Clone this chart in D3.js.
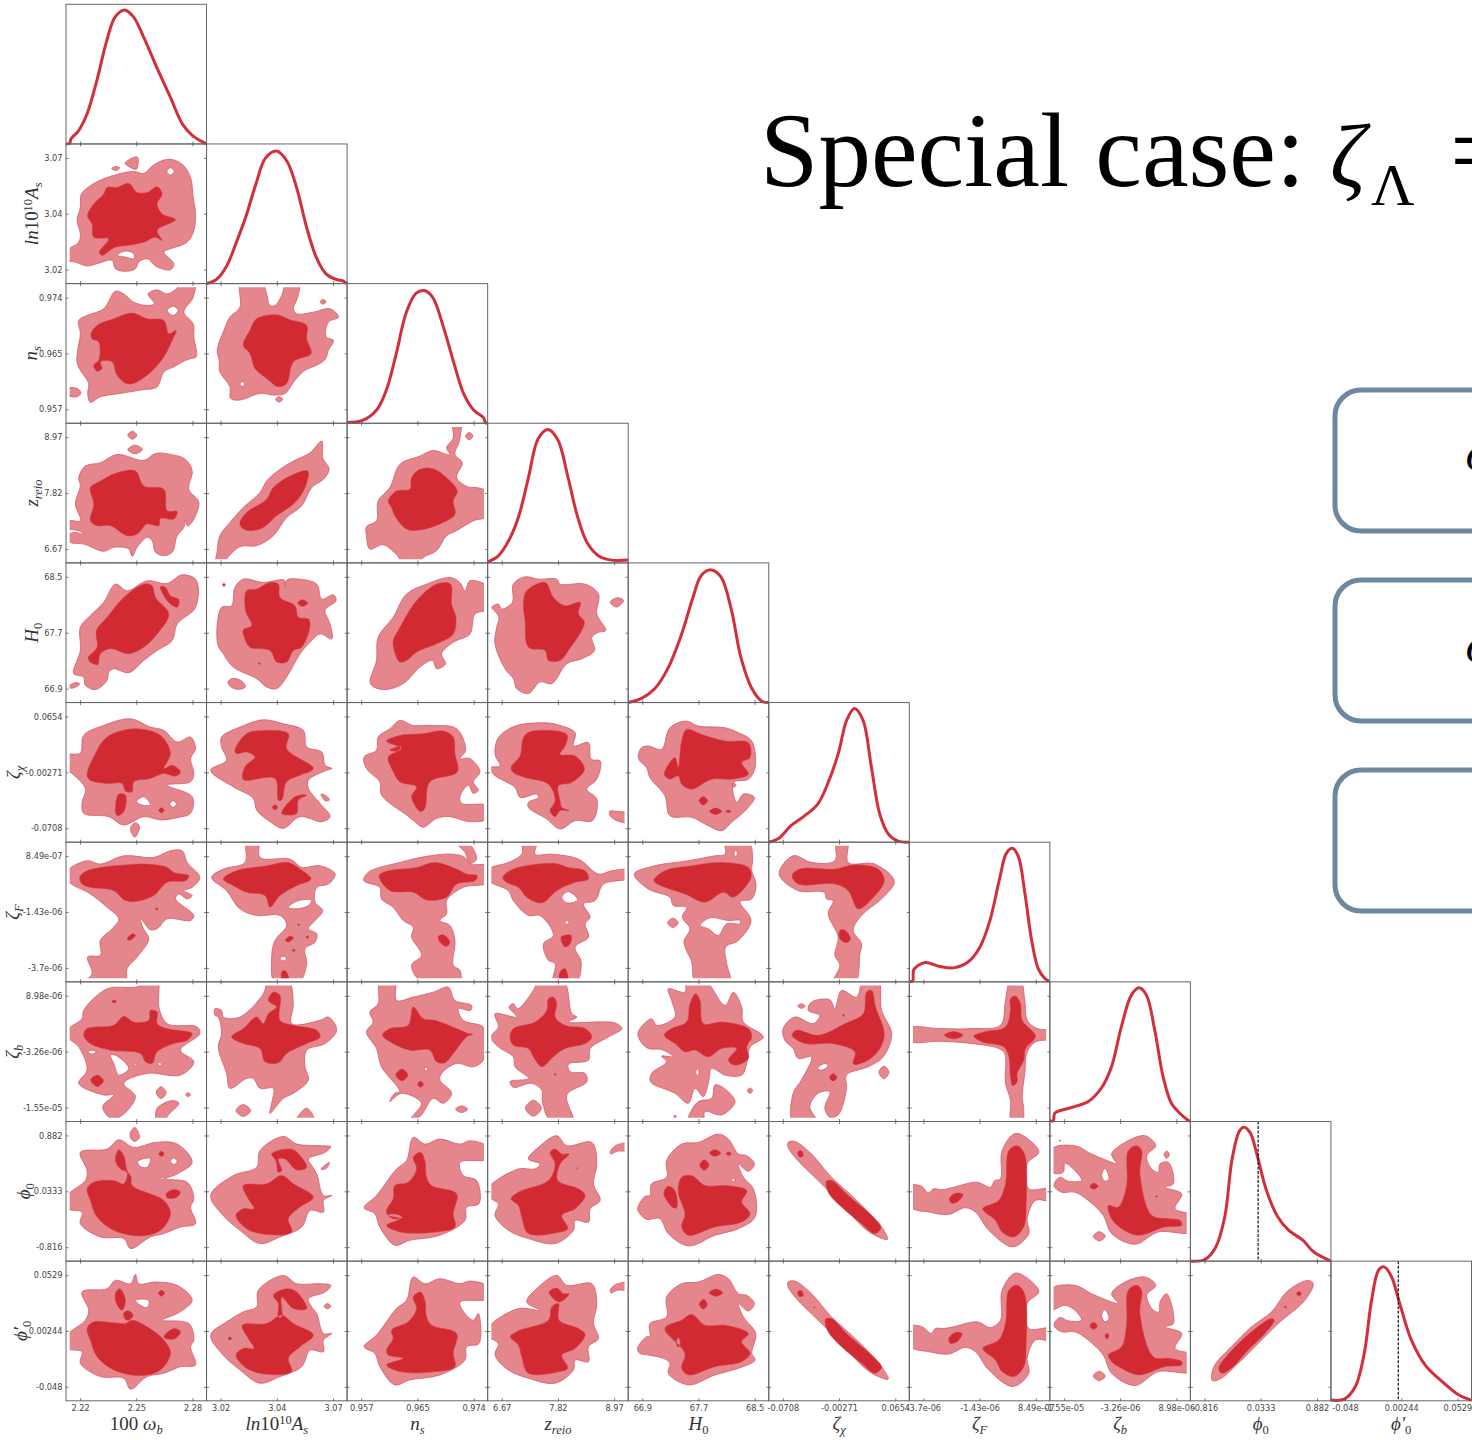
<!DOCTYPE html>
<html>
<head>
<meta charset="utf-8">
<script src="https://cdnjs.cloudflare.com/ajax/libs/d3/7.8.5/d3.min.js"></script>
<style>
body { margin: 0; background: #fff; overflow: hidden; }
</style>
</head>
<body>
<svg id="plot" width="1472" height="1440"></svg>
<script>
// tick labels per parameter, at 10%, 50% and 90% of each axis
const xTickLabels = [
  ['2.22', '2.25', '2.28'], ['3.02', '3.04', '3.07'], ['0.957', '0.965', '0.974'],
  ['6.67', '7.82', '8.97'], ['66.9', '67.7', '68.5'], ['-0.0708', '-0.00271', '0.0654'],
  ['-3.7e-06', '-1.43e-06', '8.49e-07'], ['-1.55e-05', '-3.26e-06', '8.98e-06'],
  ['-0.816', '0.0333', '0.882'], ['-0.048', '0.00244', '0.0529']
]
const tickPercent = [10, 50, 90]

// axis names as [text, kind] pieces
const paramNames = [
  [['100 ', 'r'], ['ω', 'i'], ['b', 'sub']],
  [['ln', 'i'], ['10', 'r'], ['10', 'sup'], ['A', 'i'], ['s', 'sub']],
  [['n', 'i'], ['s', 'sub']],
  [['z', 'i'], ['reio', 'sub']],
  [['H', 'i'], ['0', 'subr']],
  [['ζ', 'i'], ['χ', 'sub']],
  [['ζ', 'i'], ['F', 'sub']],
  [['ζ', 'i'], ['b', 'sub']],
  [['ϕ', 'i'], ['0', 'subr']],
  [['ϕ′', 'i'], ['0', 'subr']]
]

// 1d posteriors: x %, density %
const d0 = [0,0, 2.6,.5, 3.5,3.6, 9,9.6, 15,21.6, 22,45.6, 29,74, 35,91, 41.8,96, 48,91, 55,77, 64.5,55, 74,34, 83,14, 90,6, 100,0]
const d1 = [0,0, 7,2.9, 14,12, 21,29, 28,48, 35,71, 42,90, 49.8,95, 57,88, 64,69, 71,41, 78,19, 85,7, 92,3, 97,2, 100,0]
const d2 = [0,.5, 11,2, 21,9.5, 28,24, 35,50, 42,79, 49,93, 54.9,95, 61,90, 68.5,69, 76,43, 83,21, 90,9.5, 97,4, 98.5,.5, 100,0]
const d3_ = [0,.7, 7.6,5, 15,16, 22,33, 29,61, 36,89, 43,95.6, 50,88, 57,62, 64,33, 71,14, 79,5, 88,2, 100,2]
const d4 = [0,0, 9.5,3, 19,10, 28.5,25, 38,49, 46,75, 52,91, 59,95, 66,90, 73.5,66, 80,33, 87.5,11, 95,1, 100,0]
const d5 = [0,0, 6.6,2.4, 16,12, 25.6,19, 35,27.5, 42,42, 49.5,63.6, 55.5,87.5, 61,95.7, 67,87.5, 73,54, 79,20, 85,6, 92,.7, 100,0]
const d6 = [0,.5, 2.4,.5, 3.3,8.9, 11.3,13.9, 21,11.2, 31.4,10, 42,14.4, 50.3,25, 57.4,44, 64.5,75, 69,92, 73.3,95.7, 77.5,90, 82.3,63, 87,30, 91.7,9.5, 96.5,2.4, 99.4,.3]
const d7 = [0,.5, 2.4,.5, 3.6,6, 15.4,10, 27.3,14.3, 36.7,24, 43.8,39, 50.9,68, 58,90.5, 63.5,95.7, 68.7,90.5, 74.6,65.5, 80.6,32, 86.5,13, 93.6,4.8, 97.9,1.2, 100,0]
const d8 = [0,0, 10.3,1.2, 18,10, 24.5,32, 29.6,72.7, 34.8,93, 38.1,95.9, 42.5,92, 47.7,75, 54,51, 62,32, 70,22, 80,15, 87.6,6.7, 100,0]
const d9 = [0,.5, 9.5,1.2, 17.3,10, 23.7,34, 28.9,72, 34,93.8, 37.9,95.9, 43,89, 49.5,67.7, 57,44, 67.5,25, 80,13, 90.7,4.3, 99.7,.5]
const densities = [d0, d1, d2, d3_, d4, d5, d6, d7, d8, d9]
const truthPercent = [null, null, null, null, null, null, null, null, 48.2, 47.9]

// 2d contours on a 421 x 421 density grid (origin bottom left).
// L = 95% region, holes are polygons nested inside. D = 68% region.
const r1c0L = [
  [5,100, 38,125, 43,150, 33,190, 43,230, 46,270, 73,295, 123,320, 203,338, 233,332, 263,358, 308,375, 348,360, 373,320, 381,260, 388,210, 383,160, 363,125, 313,105, 293,95, 323,60, 313,42, 273,50, 243,75, 218,65, 208,45, 178,37, 148,45, 138,70, 93,60, 63,53, 28,65, 5,70],
  [177,363, 208,382, 215,380, 211,345, 193,350],
  [137,347, 150,353, 161,349, 150,341],
  [302,338, 313,349, 324,338, 313,327],
  [153,85, 178,98, 203,90, 203,75, 178,80]
]
const r1c0D = [[65,210, 83,240, 113,270, 123,290, 153,290, 188,302, 213,275, 243,275, 273,292, 288,270, 273,240, 288,210, 328,193, 273,160, 288,130, 268,140, 233,125, 183,115, 148,110, 108,85, 100,95, 128,135, 83,140, 78,180, 65,200]]

const r2c0L = [
  [35,220, 43,270, 38,310, 63,325, 113,345, 148,398, 173,390, 203,365, 243,355, 265,360, 246,390, 273,402, 303,390, 333,408, 343,425, 385,425, 381,380, 353,335, 381,300, 383,260, 390,200, 373,195, 348,185, 323,170, 293,155, 273,110, 223,100, 163,90, 103,80, 73,63, 65,90, 68,120, 43,160, 33,185],
  [303,340, 321,353, 336,340, 321,325],
  [5,105, 33,105, 45,92, 33,80, 5,85]
]
const r2c0D = [
  [75,270, 93,295, 143,315, 198,332, 243,315, 293,310, 308,270, 330,280, 318,250, 293,200, 243,145, 188,118, 153,145, 138,185, 103,185, 108,165, 93,157, 83,175, 98,190, 98,245, 78,255]
]

const r2c1L = [
  [32,220, 52,280, 70,320, 100,350, 102,425, 165,425, 180,390, 190,355, 205,355, 225,385, 240,425, 277,425, 273,380, 260,345, 270,330, 320,335, 370,345, 395,320, 365,305, 358,260, 380,250, 365,220, 355,192, 330,175, 295,160, 265,130, 235,90, 200,85, 160,90, 100,70, 72,75, 70,110, 40,155, 38,190],
  [100,118, 107,125, 114,118, 107,111],
  [207,72, 217,80, 228,72, 217,64],
  [340,366, 349,373, 358,366, 349,359]
]
const r2c1D = [[110,235, 130,280, 150,315, 210,327, 250,312, 300,295, 300,255, 313,210, 260,185, 240,120, 215,110, 180,135, 145,165, 130,210]]

const r3c0L = [
  [5,127, 43,127, 28,177, 43,232, 38,257, 58,292, 103,302, 153,327, 233,309, 268,330, 313,327, 358,312, 378,277, 368,222, 398,182, 373,117, 363,112, 358,129, 353,107, 333,82, 318,32, 293,22, 268,32, 258,67, 243,77, 213,47, 198,20, 188,42, 143,47, 113,35, 53,57, 13,62, 5,82, 23,92, 48,87, 58,85, 38,97, 5,105],
  [185,385, 199,397, 212,385, 199,373],
  [185,342, 207,355, 229,342, 207,329]
]
const r3c0D = [[73,227, 103,247, 153,272, 208,277, 233,232, 293,222, 303,157, 333,155, 323,132, 283,134, 278,112, 243,117, 213,87, 183,82, 133,112, 93,112, 73,127, 83,177]]

const r3c1L = [[28,-5, 32,37, 40,82, 70,122, 110,167, 160,212, 180,247, 220,282, 260,307, 310,332, 345,367, 348,317, 367,282, 350,252, 315,227, 285,172, 240,137, 200,82, 150,52, 100,49, 60,12, 50,-5]]
const r3c1D = [[100,122, 120,152, 180,192, 200,227, 250,262, 303,277, 295,227, 265,182, 210,142, 170,107, 130,97, 105,107]]

const r3c2L = [
  [58,109, 88,127, 93,187, 128,227, 158,297, 218,322, 258,339, 298,327, 308,327, 298,347, 318,377, 316,425, 340,425, 336,367, 323,327, 345,302, 328,257, 363,229, 388,227, 425,212, 425,142, 378,127, 328,97, 298,82, 268,37, 238,22, 223,12, 208,-5, 168,-5, 153,19, 141,32, 108,55, 68,42, 58,82],
  [355,382, 366,393, 377,382, 366,371]
]
const r3c2D = [[123,187, 148,217, 188,222, 193,257, 218,282, 258,284, 298,257, 330,217, 318,187, 323,147, 288,122, 218,99, 178,102, 143,142, 133,167]]

const r4c0L = [
  [23,87, 43,157, 43,227, 73,262, 113,302, 148,357, 183,337, 243,367, 303,359, 348,385, 390,369, 388,287, 333,237, 318,187, 273,157, 233,127, 188,90, 143,102, 128,92, 123,67, 88,39, 58,52, 53,77],
  [5,46, 27,60, 41,56, 22,44]
]
const r4c0D = [
  [66,135, 93,167, 91,217, 123,257, 173,317, 233,357, 258,352, 268,317, 308,267, 273,207, 233,167, 188,147, 133,162, 103,147, 95,114, 73,122],
  [283,350, 298,347, 313,322, 338,310, 333,287, 313,297, 293,322]
]

const r4c1L = [
  [33,177, 45,287, 75,292, 85,347, 110,372, 170,362, 233,369, 235,349, 240,369, 280,372, 330,357, 345,312, 380,325, 388,307, 355,279, 370,237, 375,192, 340,207, 310,182, 280,147, 240,77, 210,42, 180,47, 150,72, 80,107, 50,147],
  [64,62, 80,73, 105,65, 116,47, 95,40, 72,48]
]
const r4c1D = [
  [110,219, 135,232, 117,277, 120,337, 150,342, 190,362, 215,357, 220,317, 265,292, 275,257, 305,252, 310,232, 285,167, 260,157, 240,122, 210,122, 190,157, 130,167, 113,197],
  [273,300, 288,310, 303,300, 288,290],
  [48,355, 52,360, 56,355, 52,350],
  [155,118, 158,121, 161,118, 158,115]
]

const r4c2L = [[70,57, 88,127, 93,197, 138,257, 178,327, 238,357, 308,377, 338,362, 353,337, 368,367, 425,347, 425,282, 383,267, 368,207, 318,182, 283,147, 295,117, 268,102, 256,127, 218,107, 168,57, 108,39]]
const r4c2D = [[138,187, 153,217, 208,307, 268,357, 310,357, 313,297, 326,257, 318,207, 268,177, 208,152, 178,127, 158,122, 141,157]]

const r4c3L = [
  [12,287, 32,297, 42,282, 74,302, 77,357, 112,379, 152,372, 207,372, 217,357, 292,357, 332,327, 327,267, 354,217, 332,212, 312,197, 320,157, 282,132, 237,117, 192,57, 157,62, 122,27, 87,42, 77,72, 52,102, 22,177, 27,227, 34,257, 20,277],
  [367,302, 387,316, 407,308, 387,288]
]
const r4c3D = [[107,297, 117,337, 172,362, 197,317, 232,292, 277,302, 272,267, 290,242, 242,157, 217,127, 182,127, 172,157, 122,167, 112,247]]

const r5c0L = [
  [5,262, 43,269, 53,322, 113,352, 193,372, 253,347, 293,337, 333,302, 373,317, 388,282, 373,252, 383,207, 373,182, 303,172, 378,137, 373,87, 333,74, 283,67, 233,77, 173,52, 128,77, 53,87, 48,117, 58,162, 18,207, 5,217],
  [211,122, 233,137, 253,112, 228,112],
  [311,115, 321,125, 331,115, 321,105],
  [193,42, 208,59, 220,47, 206,15]
]
const r5c0D = [
  [63,202, 88,267, 123,317, 203,342, 283,322, 313,267, 293,222, 318,232, 343,212, 328,199, 293,207, 253,192, 203,182, 198,152, 178,154, 168,177, 123,177, 73,187],
  [148,97, 158,145, 178,142, 173,92, 153,80],
  [278,96, 286,104, 294,96, 286,88]
]

const r5c1L = [
  [12,217, 60,247, 45,287, 45,317, 100,347, 170,369, 230,357, 290,337, 300,287, 345,272, 355,232, 375,222, 355,215, 305,187, 305,162, 340,117, 370,77, 345,62, 280,77, 230,42, 190,62, 150,97, 140,132, 80,167],
  [343,145, 358,140, 368,127, 355,125]
]
const r5c1D = [
  [85,277, 120,327, 180,337, 245,327, 240,282, 320,222, 280,202, 240,182, 225,127, 215,127, 205,192, 110,189, 115,227, 145,257, 120,272, 90,267],
  [225,87, 265,137, 300,142, 275,127, 270,87, 240,82],
  [197,105, 205,113, 213,105, 205,97]
]

const r5c2L = [[51,257, 88,277, 93,317, 128,342, 158,367, 198,352, 258,352, 328,342, 355,277, 338,252, 368,252, 398,212, 378,182, 393,157, 378,147, 363,172, 338,137, 343,117, 425,110, 425,72, 368,62, 308,77, 268,72, 228,45, 203,62, 178,82, 103,142, 98,182, 58,222]]
const r5c2D = [
  [118,305, 158,322, 228,327, 288,335, 318,317, 323,267, 330,212, 248,182, 233,102, 220,92, 193,137, 208,167, 158,182, 136,217, 123,257, 163,282],
  [128,278, 163,290, 150,275]
]

const r5c3L = [
  [10,225, 37,230, 22,265, 32,315, 82,350, 162,360, 207,355, 262,330, 257,290, 302,300, 310,250, 337,245, 327,190, 297,160, 327,130, 314,65, 262,65, 217,40, 177,70, 122,105, 122,120, 152,135, 147,145, 97,135, 82,165, 17,205],
  [365,93, 387,93, 425,85, 425,60, 387,65, 367,80]
]
const r5c3D = [[70,225, 97,260, 107,315, 127,333, 237,325, 232,290, 217,265, 262,260, 290,220, 252,180, 212,170, 217,125, 222,105, 244,95, 217,95, 202,77, 187,95, 202,125, 182,175, 112,195, 77,210]]

const r5c4L = [
  [30,260, 40,285, 60,290, 100,280, 125,345, 175,365, 210,350, 290,345, 330,330, 370,305, 380,225, 360,190, 315,180, 325,120, 345,145, 378,135, 360,105, 310,60, 280,35, 230,55, 190,75, 125,80, 110,140, 65,195, 55,225, 35,245],
  [311,172, 317,178, 323,172, 317,166]
]
const r5c4D = [
  [108,205, 140,255, 150,225, 160,305, 175,340, 220,325, 290,305, 360,300, 365,255, 340,240, 360,205, 310,190, 250,190, 190,160, 160,175, 150,200, 125,190],
  [212,125, 225,138, 238,125, 225,112],
  [244,93, 262,103, 280,93, 262,83],
  [292,93, 300,97, 308,93, 300,89]
]

const r6c0L = [
  [5,335, 63,365, 103,355, 173,380, 263,375, 313,395, 348,395, 363,360, 401,315, 378,285, 353,275, 378,260, 363,250, 338,265, 328,250, 383,200, 373,185, 303,190, 273,160, 250,158, 240,170, 222,192, 232,160, 248,130, 213,75, 183,40, 178,-5, 53,-5, 78,25, 65,75, 103,80, 103,125, 138,160, 158,190, 123,225, 73,265, 5,305]
]
const r6c0D = [
  [41,315, 63,335, 183,353, 243,355, 303,345, 323,330, 368,320, 358,305, 303,300, 263,260, 213,243, 178,245, 143,275, 73,285, 48,295],
  [183,130, 200,145, 208,140, 190,125],
  [268,220, 272,224, 276,220, 272,216]
]

const r6c1L = [
  [15,315, 50,340, 115,360, 120,425, 155,425, 160,375, 250,370, 285,345, 340,350, 385,325, 365,295, 330,285, 325,240, 348,215, 325,185, 305,160, 330,145, 325,120, 295,100, 300,55, 275,-5, 205,-5, 195,75, 205,125, 240,170, 220,200, 150,200, 100,220, 60,275],
  [245,225, 270,243, 315,247, 305,230, 265,220],
  [220,70, 230,77, 240,70, 230,63]
]
const r6c1D = [
  [50,310, 90,335, 180,350, 245,360, 280,340, 313,310, 270,290, 220,260, 190,225, 175,260, 120,270, 80,290],
  [236,125, 250,138, 260,133, 246,120],
  [298,135, 302,139, 306,135, 302,131],
  [257,95, 261,99, 265,95, 261,91],
  [273,172, 276,175, 279,172, 276,169],
  [225,30, 237,33, 247,-5, 230,-5]
]

const r6c2L = [
  [50,305, 63,330, 158,360, 248,380, 318,385, 353,375, 368,355, 425,350, 425,300, 348,285, 298,245, 298,205, 278,185, 308,170, 323,125, 318,50, 338,35, 336,-5, 228,-5, 193,50, 223,80, 193,135, 198,165, 168,185, 138,225, 103,250, 98,285],
  [323,425, 358,425, 388,370, 368,357, 353,390]
]
const r6c2D = [
  [96,320, 123,335, 208,345, 263,360, 328,340, 358,325, 390,320, 383,305, 328,295, 298,255, 238,247, 198,270, 128,275],
  [273,137, 288,142, 308,120, 298,107, 278,120]
]

const r6c3L = [
  [5,340, 62,360, 102,385, 107,425, 147,425, 142,385, 192,385, 272,370, 332,325, 372,335, 425,337, 425,313, 347,295, 322,245, 287,235, 307,195, 292,175, 302,135, 262,105, 280,60, 264,-5, 197,-5, 202,55, 182,65, 167,115, 197,140, 157,200, 122,200, 77,245, 62,275, 5,305],
  [222,255, 242,272, 270,247, 237,238],
  [232,179, 238,185, 244,179, 238,173]
]
const r6c3D = [
  [45,315, 77,340, 202,357, 242,345, 292,335, 302,310, 262,300, 207,275, 162,238, 117,255, 92,285, 57,300],
  [220,135, 250,140, 247,115, 232,105],
  [217,30, 232,40, 240,-5, 217,-5]
]

const r6c4L = [
  [18,325, 80,350, 180,365, 260,380, 290,385, 292,425, 360,425, 373,375, 370,335, 383,295, 370,250, 335,242, 368,185, 330,125, 292,105, 295,55, 305,-5, 203,-5, 190,60, 167,120, 185,160, 162,195, 175,225, 135,230, 125,255, 60,280],
  [215,170, 245,193, 300,185, 335,185, 335,175, 295,175, 270,140, 240,160],
  [317,387, 322,397, 327,387, 322,377],
  [118,178, 134,192, 150,178, 134,164]
]
const r6c4D = [[77,305, 110,335, 190,350, 280,360, 360,345, 368,315, 315,255, 285,270, 230,240, 170,265, 110,285]]

const r6c5L = [[31,325, 73,380, 128,360, 198,365, 203,425, 236,425, 238,360, 318,355, 376,303, 343,255, 278,200, 253,155, 278,115, 273,85, 258,-5, 193,-5, 213,50, 198,80, 208,135, 178,205, 193,245, 173,250, 166,270, 88,275]]
const r6c5D = [
  [70,320, 93,340, 198,340, 258,353, 328,340, 346,305, 318,260, 268,220, 238,275, 198,295, 88,295],
  [213,155, 226,157, 245,130, 233,118, 213,130]
]

const r7c0L = [
  [5,277, 48,310, 53,335, 123,400, 208,405, 273,425, 278,345, 303,295, 393,285, 401,265, 343,215, 383,180, 343,140, 243,145, 173,115, 208,75, 163,15, 133,10, 110,45, 143,80, 113,80, 38,115, 63,155, 38,225, 5,255],
  [65,210, 78,215, 91,210, 78,203],
  [133,200, 148,200, 188,160, 158,140, 143,175],
  [203,173, 207,177, 211,173, 207,169],
  [276,173, 281,178, 286,173, 281,168],
  [270,87, 285,105, 300,87, 285,69],
  [359,81, 366,87, 373,81, 366,75],
  [268,12, 273,40, 318,63, 338,55, 303,15, 298,-5, 266,-5]
]
const r7c0D = [
  [53,260, 63,280, 143,290, 173,317, 203,300, 248,305, 253,335, 273,330, 273,295, 303,280, 378,265, 363,245, 323,235, 273,210, 258,175, 238,180, 223,205, 133,215, 73,235],
  [74,125, 94,140, 112,123, 94,105],
  [137,362, 144,366, 151,362, 144,358]
]

const r7c1L = [
  [25,340, 45,335, 50,315, 100,315, 170,385, 185,425, 245,425, 260,355, 255,295, 340,305, 365,315, 390,275, 355,235, 300,215, 295,165, 305,125, 260,85, 230,70, 190,25, 195,55, 200,100, 160,100, 140,130, 120,130, 70,100, 60,145, 35,225, 45,265, 35,315, 25,320],
  [88,33, 110,51, 132,33, 110,15],
  [270,10, 300,40, 320,15, 320,-5, 265,-5]
]
const r7c1D = [[75,255, 110,280, 150,315, 170,295, 185,325, 210,345, 185,365, 200,390, 220,380, 220,305, 260,290, 330,275, 340,255, 300,235, 240,205, 215,177, 175,180, 160,220, 110,235]]

const r7c2L = [
  [58,270, 78,300, 68,330, 93,355, 98,425, 143,425, 148,365, 198,375, 258,390, 303,405, 323,365, 373,350, 370,335, 333,340, 348,305, 408,285, 416,245, 408,185, 378,165, 328,175, 283,145, 278,125, 313,85, 288,55, 258,70, 218,15, 193,10, 223,55, 163,85, 128,60, 143,85, 158,90, 103,165, 88,220],
  [231,158, 236,163, 241,158, 236,153],
  [325,37, 343,47, 361,37, 343,27]
]
const r7c2D = [
  [106,260, 128,280, 183,290, 198,345, 228,310, 263,305, 328,280, 363,265, 376,263, 358,255, 318,205, 293,177, 268,180, 248,215, 188,215, 138,235],
  [146,140, 164,158, 182,140, 164,122],
  [211,112, 220,121, 229,112, 220,103]
]

const r7c3L = [
  [10,255, 32,285, 22,325, 87,315, 64,345, 77,355, 90,340, 142,405, 147,425, 227,425, 252,325, 267,315, 242,300, 382,297, 402,280, 362,255, 307,220, 302,185, 242,173, 247,150, 292,145, 297,120, 237,80, 257,-5, 192,-5, 164,60, 162,95, 132,115, 77,103, 67,120, 122,130, 82,165, 77,195, 32,225],
  [113,40, 137,64, 161,40, 137,16]
]
const r7c3D = [
  [67,255, 77,280, 142,300, 177,335, 182,370, 197,375, 207,355, 202,315, 232,290, 292,280, 312,255, 292,235, 232,220, 197,195, 162,165, 137,195, 122,220, 77,230],
  [199,142, 202,145, 205,142, 202,139]
]

const r7c4L = [
  [30,270, 70,310, 85,290, 140,315, 130,365, 120,400, 170,390, 175,425, 230,425, 290,350, 315,390, 340,345, 345,300, 405,255, 365,225, 355,175, 340,140, 290,140, 250,160, 240,115, 225,75, 200,100, 180,55, 140,85, 67,120, 70,145, 115,180, 100,197, 135,195, 100,217, 60,220, 35,245],
  [202,148, 207,158, 212,148, 207,138],
  [180,-5, 180,12, 210,60, 250,70, 260,110, 280,105, 320,60, 280,20, 230,30, 225,-5],
  [357,93, 365,101, 373,93, 365,85],
  [136,15, 140,19, 144,15, 140,11]
]
const r7c4D = [[108,260, 130,280, 175,300, 185,355, 202,385, 215,365, 225,295, 280,300, 360,280, 370,255, 355,225, 360,190, 320,170, 300,185, 325,220, 280,220, 240,195, 200,215, 170,210, 140,235]]

const r7c5L = [
  [43,280, 78,315, 133,295, 153,320, 118,335, 128,360, 183,367, 198,340, 218,395, 263,375, 283,425, 328,425, 338,335, 368,265, 343,195, 298,165, 233,140, 233,100, 208,20, 183,13, 168,40, 183,90, 148,85, 123,45, 146,-5, 73,-5, 73,85, 98,125, 128,195, 88,190, 73,220, 48,245],
  [146,160, 168,175, 178,168, 158,155],
  [87,348, 98,355, 109,348, 98,341],
  [330,148, 345,167, 360,148, 345,129]
]
const r7c5D = [
  [70,260, 83,275, 148,260, 228,295, 283,325, 293,390, 308,395, 320,345, 346,265, 333,220, 298,185, 253,173, 258,210, 188,235, 108,235],
  [182,133, 193,144, 204,133, 193,122],
  [221,320, 224,323, 227,320, 224,317]
]

const r7c6L = [[5,282, 88,280, 188,280, 273,290, 288,365, 303,425, 333,425, 346,365, 353,305, 383,280, 425,273, 425,250, 378,240, 353,210, 346,145, 338,75, 343,35, 338,-5, 306,-5, 303,65, 288,115, 286,205, 268,220, 188,235, 88,242, 5,242]]
const r7c6D = [
  [193,257, 223,270, 288,285, 303,335, 303,370, 318,378, 333,355, 338,305, 378,257, 348,220, 343,185, 323,145, 323,120, 310,108, 303,135, 298,195, 283,225, 218,240],
  [105,260, 133,271, 161,260, 133,249]
]

const r8c0L = [
  [5,198, 58,243, 63,273, 43,328, 123,338, 158,366, 203,343, 268,358, 333,353, 378,298, 333,263, 298,248, 363,238, 383,188, 373,163, 388,113, 343,103, 293,83, 253,73, 193,38, 173,68, 103,73, 43,113, 48,148, 5,158],
  [215,301, 253,310, 243,283, 223,285],
  [313,301, 323,311, 333,301, 323,291],
  [284,250, 288,254, 292,250, 288,246],
  [193,388, 206,403, 220,373, 206,361, 195,368]
]
const r8c0D = [
  [63,218, 83,238, 143,243, 173,233, 183,268, 163,278, 148,303, 158,336, 173,318, 183,273, 195,253, 198,228, 293,183, 313,143, 283,93, 223,76, 143,93, 93,133, 73,183],
  [300,203, 323,216, 343,208, 328,191, 303,191],
  [278,323, 286,331, 294,323, 286,315]
]

const r8c1L = [
  [12,198, 80,258, 150,283, 160,333, 230,376, 270,353, 340,348, 372,345, 355,328, 305,308, 315,288, 330,263, 350,198, 375,198, 350,183, 350,148, 310,153, 285,103, 220,73, 160,53, 100,93, 45,143],
  [343,277, 358,292, 368,297, 358,279]
]
const r8c1D = [
  [88,138, 110,158, 142,158, 125,188, 110,228, 180,233, 225,258, 260,233, 320,193, 280,163, 245,128, 255,88, 180,80, 120,98],
  [195,323, 240,338, 265,333, 300,283, 270,275, 235,308, 215,308, 225,273, 215,268, 208,303]
]

const r8c2L = [[51,161, 88,198, 148,278, 178,303, 198,373, 233,353, 278,368, 338,353, 368,363, 425,343, 425,308, 338,298, 348,258, 388,243, 395,173, 358,163, 353,123, 278,78, 188,63, 143,48, 98,103, 83,143]]
const r8c2D = [
  [118,153, 138,188, 143,228, 183,238, 208,278, 198,313, 220,328, 233,303, 238,253, 253,228, 328,203, 318,143, 323,103, 268,88, 158,88, 118,108, 158,128, 123,138],
  [123,140, 153,140, 165,131, 138,128]
]

const r8c3L = [
  [5,223, 92,278, 142,278, 157,293, 122,308, 152,343, 207,378, 237,348, 312,358, 327,293, 317,233, 337,183, 307,158, 302,118, 262,123, 257,93, 202,53, 122,68, 62,93, 22,138, 32,173, 5,193],
  [367,328, 382,348, 425,355, 425,335, 387,331, 370,323]
]
const r8c3D = [
  [70,188, 92,208, 182,243, 202,293, 187,328, 202,338, 222,323, 244,323, 217,293, 210,243, 272,218, 292,198, 262,158, 222,138, 240,98, 217,88, 122,83, 102,133, 92,168],
  [267,280, 269,282, 271,280, 269,278]
]

const r8c4L = [
  [28,158, 50,195, 65,198, 70,233, 115,253, 115,303, 160,353, 210,358, 270,383, 300,368, 330,323, 355,318, 378,293, 360,271, 330,293, 345,253, 375,218, 380,133, 330,98, 260,78, 180,46, 120,83, 95,128, 55,126, 35,143],
  [310,245, 315,250, 320,245, 315,240]
]
const r8c4D = [
  [160,103, 170,143, 150,208, 160,253, 190,258, 230,228, 290,228, 355,213, 340,178, 365,143, 340,118, 260,103, 180,78],
  [107,208, 120,226, 140,213, 145,161, 135,161, 110,193],
  [243,326, 260,336, 277,326, 260,316],
  [293,324, 301,329, 309,324, 301,319],
  [214,290, 228,306, 242,290, 228,274]
]

const r8c5L = [[58,358, 78,361, 123,328, 188,253, 248,198, 308,138, 338,103, 356,66, 328,73, 288,98, 208,183, 148,243, 83,308, 58,343]]
const r8c5D = [
  [173,241, 188,243, 238,198, 318,128, 336,101, 318,83, 278,113, 218,163, 178,208],
  [87,329, 98,332, 103,317, 92,314]
]

const r8c6L = [[5,228, 38,225, 56,205, 73,218, 98,215, 133,223, 203,238, 243,223, 256,243, 273,248, 278,333, 318,385, 373,353, 388,328, 353,293, 358,218, 425,218, 425,183, 378,183, 353,128, 358,83, 310,43, 238,93, 198,148, 168,161, 118,141, 58,148, 5,163]]
const r8c6D = [
  [220,158, 268,183, 288,233, 298,333, 323,348, 345,323, 350,173, 343,103, 313,73, 278,88, 258,123],
  [120,188, 138,205, 161,201, 143,178, 126,175]
]

const r8c7L = [
  [5,338, 75,348, 125,323, 185,298, 200,293, 185,323, 225,358, 285,378, 317,348, 290,318, 305,278, 325,268, 330,293, 355,298, 370,233, 345,223, 395,203, 375,158, 425,138, 425,88, 325,88, 255,51, 185,83, 160,138, 115,183, 75,208, 35,208, 12,228, 30,253, 55,241, 95,243, 75,273, 45,295, 40,268, 5,268],
  [155,258, 165,280, 177,248, 165,241],
  [130,75, 148,89, 166,75, 148,61],
  [342,321, 350,332, 358,321, 350,310]
]
const r8c7D = [
  [175,168, 205,163, 230,228, 235,333, 260,348, 275,333, 270,263, 305,138, 355,128, 390,123, 395,108, 345,103, 265,78, 215,98, 185,128],
  [120,226, 132,235, 144,226, 132,217],
  [317,195, 320,198, 323,195, 320,192],
  [28,363, 30,365, 32,363, 30,361]
]

const r9c0L = [
  [5,198, 58,243, 68,273, 48,328, 123,338, 148,363, 193,353, 208,381, 218,353, 268,358, 333,348, 378,303, 333,263, 308,253, 288,243, 368,233, 383,183, 373,163, 388,108, 343,103, 293,83, 243,73, 193,35, 173,68, 103,73, 43,113, 48,148, 5,158],
  [208,303, 248,303, 243,281, 223,288]
]
const r9c0D = [
  [63,218, 83,238, 143,235, 178,233, 198,243, 243,223, 293,183, 313,143, 283,93, 223,76, 143,93, 93,133, 73,183],
  [173,265, 188,271, 201,258, 188,243, 178,245],
  [148,323, 161,338, 178,303, 168,273, 151,293],
  [293,193, 323,218, 343,208, 328,188, 303,186],
  [277,324, 286,333, 295,324, 286,315]
]

const r9c1L = [
  [12,198, 60,238, 110,268, 150,283, 155,333, 230,378, 270,353, 340,353, 372,348, 355,328, 305,308, 315,283, 330,263, 350,203, 375,203, 350,183, 350,148, 310,153, 285,103, 220,73, 160,53, 100,93, 45,143],
  [352,285, 362,293, 372,285, 362,277]
]
const r9c1D = [
  [88,138, 110,158, 142,158, 125,188, 107,228, 180,233, 225,258, 260,233, 320,198, 280,163, 245,128, 255,88, 180,80, 120,98],
  [200,318, 240,338, 270,328, 300,278, 260,278, 225,313, 225,253, 215,253, 215,293],
  [65,188, 70,193, 75,188, 70,183]
]

const r9c2L = [[51,163, 88,198, 148,278, 178,303, 198,373, 233,353, 278,368, 338,353, 368,361, 425,343, 425,308, 338,298, 353,263, 378,243, 393,263, 395,173, 358,163, 353,123, 278,78, 188,63, 143,48, 98,103, 83,143]]
const r9c2D = [[118,153, 138,188, 133,213, 183,238, 208,278, 198,313, 220,328, 233,303, 238,253, 253,228, 328,203, 318,143, 323,103, 268,88, 158,88, 118,108, 168,128, 123,138]]

const r9c3L = [
  [5,223, 92,278, 157,273, 117,298, 152,343, 207,378, 237,348, 312,353, 327,293, 317,233, 332,188, 302,163, 302,118, 262,123, 257,93, 202,53, 122,68, 62,93, 22,138, 32,173, 5,193],
  [367,333, 382,350, 425,356, 425,336, 387,333, 370,325]
]
const r9c3D = [
  [68,193, 92,211, 182,243, 192,283, 212,293, 214,243, 272,218, 292,200, 262,158, 222,138, 240,98, 217,88, 122,83, 102,133, 92,168],
  [184,328, 207,340, 227,323, 244,323, 217,298, 197,308]
]

const r9c4L = [[28,158, 55,193, 65,193, 65,233, 115,253, 115,313, 160,353, 210,358, 270,381, 300,368, 330,323, 355,318, 378,293, 360,271, 330,293, 345,253, 382,203, 370,143, 380,123, 330,98, 260,78, 180,48, 120,83, 125,113, 105,128, 60,138, 35,143]]
const r9c4D = [
  [160,98, 170,143, 110,218, 160,243, 190,260, 230,228, 290,228, 360,203, 340,178, 365,143, 340,118, 260,103, 180,78],
  [144,176, 150,191, 156,176, 150,161],
  [243,326, 263,337, 283,326, 263,315],
  [213,291, 225,306, 237,291, 225,276]
]

const r9c5L = [[58,358, 78,361, 123,328, 188,253, 248,198, 308,138, 338,103, 358,65, 328,73, 288,98, 208,183, 148,243, 83,308, 58,343]]
const r9c5D = [
  [170,246, 188,248, 238,198, 318,128, 338,101, 318,83, 278,113, 218,163, 178,208],
  [87,329, 98,332, 103,317, 92,314],
  [135,282, 137,284, 139,282, 137,280]
]

const r9c6L = [[5,225, 38,223, 66,203, 78,218, 103,218, 133,223, 203,238, 243,221, 273,243, 278,333, 318,385, 373,353, 388,328, 353,293, 358,218, 425,218, 425,183, 378,183, 353,128, 358,83, 310,43, 238,93, 198,148, 168,161, 118,141, 58,148, 5,163]]
const r9c6D = [
  [220,158, 268,183, 288,233, 298,333, 323,348, 345,323, 350,173, 343,103, 313,73, 278,88, 258,123],
  [118,188, 138,206, 158,203, 143,178, 123,173]
]

const r9c7L = [
  [5,338, 75,348, 125,323, 185,298, 205,293, 185,323, 225,358, 285,373, 317,348, 290,318, 310,273, 327,268, 330,298, 350,323, 370,233, 345,223, 395,203, 375,158, 425,138, 425,88, 325,88, 255,46, 185,83, 160,138, 115,183, 75,208, 35,208, 12,228, 30,251, 55,241, 95,243, 75,273, 45,288, 5,275],
  [155,258, 165,275, 177,248, 165,238],
  [130,75, 148,89, 166,75, 148,61]
]
const r9c7D = [
  [175,138, 215,163, 230,233, 235,333, 260,348, 275,333, 270,263, 310,133, 355,128, 395,118, 395,108, 345,103, 265,78, 215,98, 185,118],
  [120,226, 131,237, 142,226, 131,215],
  [165,195, 171,204, 177,195, 171,186]
]

const r9c8L = [[63,68, 73,108, 123,163, 183,223, 243,268, 293,333, 353,363, 368,353, 343,303, 263,233, 203,173, 143,113, 93,68, 68,60]]
const r9c8D = [
  [85,98, 103,128, 183,208, 243,248, 251,243, 223,203, 173,153, 123,98, 93,83],
  [318,323, 325,330, 332,323, 325,316],
  [282,283, 285,286, 288,283, 285,280]
]

const contourPanels = [
  [1, 0, r1c0L, r1c0D],
  [2, 0, r2c0L, r2c0D], [2, 1, r2c1L, r2c1D],
  [3, 0, r3c0L, r3c0D], [3, 1, r3c1L, r3c1D], [3, 2, r3c2L, r3c2D],
  [4, 0, r4c0L, r4c0D], [4, 1, r4c1L, r4c1D], [4, 2, r4c2L, r4c2D], [4, 3, r4c3L, r4c3D],
  [5, 0, r5c0L, r5c0D], [5, 1, r5c1L, r5c1D], [5, 2, r5c2L, r5c2D], [5, 3, r5c3L, r5c3D], [5, 4, r5c4L, r5c4D],
  [6, 0, r6c0L, r6c0D], [6, 1, r6c1L, r6c1D], [6, 2, r6c2L, r6c2D], [6, 3, r6c3L, r6c3D], [6, 4, r6c4L, r6c4D], [6, 5, r6c5L, r6c5D],
  [7, 0, r7c0L, r7c0D], [7, 1, r7c1L, r7c1D], [7, 2, r7c2L, r7c2D], [7, 3, r7c3L, r7c3D], [7, 4, r7c4L, r7c4D], [7, 5, r7c5L, r7c5D], [7, 6, r7c6L, r7c6D],
  [8, 0, r8c0L, r8c0D], [8, 1, r8c1L, r8c1D], [8, 2, r8c2L, r8c2D], [8, 3, r8c3L, r8c3D], [8, 4, r8c4L, r8c4D], [8, 5, r8c5L, r8c5D], [8, 6, r8c6L, r8c6D], [8, 7, r8c7L, r8c7D],
  [9, 0, r9c0L, r9c0D], [9, 1, r9c1L, r9c1D], [9, 2, r9c2L, r9c2D], [9, 3, r9c3L, r9c3D], [9, 4, r9c4L, r9c4D], [9, 5, r9c5L, r9c5D], [9, 6, r9c6L, r9c6D], [9, 7, r9c7L, r9c7D], [9, 8, r9c8L, r9c8D]
]

function drawCorner() {
  const plot = d3.select('#plot')
  plot.selectAll('*').remove()

  const n = 10
  const w = 140.55
  const h = 139.65
  const left = 66
  const top = 4.3
  const yLabelX = [0, 33, 32, 33, 33, 15, 14, 14, 25, 22]

  const x = d3.scaleLinear().domain([0, 100]).range([0, w])
  const y = d3.scaleLinear().domain([0, 100]).range([h, 0])
  const gx = d3.scaleLinear().domain([0, 421]).range([0, w])
  const gy = d3.scaleLinear().domain([0, 421]).range([h, 0])

  const toPairs = flat => d3.range(0, flat.length, 2).map(i => [flat[i], flat[i + 1]])
  const ring = d3.line().x(d => gx(d[0])).y(d => gy(d[1])).curve(d3.curveCatmullRomClosed.alpha(0.5))
  const density = d3.line().x(d => x(d[0])).y(d => y(d[1])).curve(d3.curveCatmullRom.alpha(0.5))

  plot.append('defs').append('clipPath').attr('id', 'grid-clip')
    .append('rect')
    .attr('x', gx(11)).attr('y', gy(410))
    .attr('width', gx(399)).attr('height', h - gy(399))

  function panel(r, c) {
    return plot.append('g').attr('transform', `translate(${left + c * w},${top + r * h})`)
  }

  function styleAxis(g) {
    g.select('.domain').remove()
    g.selectAll('line').attr('stroke', '#444').attr('stroke-width', 0.7)
    g.selectAll('text').attr('fill', '#444').style('font', '8.2px "DejaVu Sans"')
  }

  function frame(g) {
    g.append('rect').attr('width', w).attr('height', h)
      .attr('fill', 'none').attr('stroke', '#666').attr('stroke-width', 1)
  }

  function ticks(g, r, c) {
    const bottom = d3.axisBottom(x).tickValues(tickPercent).tickSize(-2.5).tickPadding(4.5)
      .tickFormat(r === n - 1 ? (d, i) => xTickLabels[c][i] : '')
    g.append('g').attr('transform', `translate(0,${h})`).call(bottom).call(styleAxis)
    if (r === c) return
    const side = d3.axisLeft(y).tickValues(tickPercent).tickSize(-2.5).tickPadding(3.5)
      .tickFormat(c === 0 ? (d, i) => xTickLabels[r][i] : '')
    g.append('g').call(side).call(styleAxis)
    g.append('g').attr('transform', `translate(${w},0)`).call(d3.axisRight(y).tickValues(tickPercent).tickSize(-2.5).tickFormat('')).call(styleAxis)
    g.append('g').call(d3.axisTop(x).tickValues(tickPercent).tickSize(-2.5).tickFormat('')).call(styleAxis)
  }

  // filled credible regions
  contourPanels.forEach(([r, c, light, dark]) => {
    const g = panel(r, c)
    const inner = g.append('g').attr('clip-path', 'url(#grid-clip)')
    inner.append('path')
      .attr('d', light.map(p => ring(toPairs(p))).join(''))
      .attr('fill', '#e4868c').attr('fill-rule', 'evenodd')
      .attr('stroke', '#d9596a').attr('stroke-width', 0.8)
    inner.append('path')
      .attr('d', dark.map(p => ring(toPairs(p))).join(''))
      .attr('fill', '#d22a33').attr('fill-rule', 'evenodd')
      .attr('stroke', '#d6404c').attr('stroke-width', 0.5)
  })

  // diagonal
  densities.forEach((d, i) => {
    const g = panel(i, i)
    g.append('path').attr('d', density(toPairs(d)))
      .attr('fill', 'none').attr('stroke', '#d22f3c').attr('stroke-width', 3)
    if (truthPercent[i] !== null) {
      g.append('line')
        .attr('x1', x(truthPercent[i])).attr('x2', x(truthPercent[i]))
        .attr('y1', 0).attr('y2', h)
        .attr('stroke', '#111').attr('stroke-width', 1.2).attr('stroke-dasharray', '3,1.5')
    }
  })

  // frames and ticks above the fills
  for (let r = 0; r < n; r++) {
    for (let c = 0; c <= r; c++) {
      const g = panel(r, c)
      frame(g)
      ticks(g, r, c)
    }
  }

  function nameText(sel, pieces) {
    pieces.forEach(([t, kind], i) => {
      const prev = i > 0 ? pieces[i - 1][1] : 'r'
      const wasLow = prev === 'sub' || prev === 'subr'
      const wasHigh = prev === 'sup'
      const isLow = kind === 'sub' || kind === 'subr'
      const isHigh = kind === 'sup'
      const level = isLow ? 4 : isHigh ? -6 : 0
      const from = wasLow ? 4 : wasHigh ? -6 : 0
      sel.append('tspan').text(t)
        .attr('dy', level - from)
        .attr('font-style', kind === 'i' || kind === 'sub' ? 'italic' : 'normal')
        .attr('font-size', isLow || isHigh ? 12.5 : 19)
    })
  }

  // axis names
  paramNames.forEach((p, i) => {
    plot.append('text')
      .attr('x', left + (i + 0.5) * w).attr('y', 1430)
      .attr('text-anchor', 'middle').attr('fill', '#333')
      .attr('font-family', '"Liberation Serif"')
      .call(nameText, p)
    if (i > 0) {
      plot.append('text')
        .attr('transform', `translate(${yLabelX[i] + 5},${top + (i + 0.5) * h}) rotate(-90)`)
        .attr('text-anchor', 'middle').attr('fill', '#333')
        .attr('font-family', '"Liberation Serif"')
        .call(nameText, p)
    }
  })

  // slide title
  const title = plot.append('text')
    .attr('x', 760).attr('y', 186)
    .attr('font-family', '"Liberation Serif"').attr('font-size', 105).attr('fill', '#000')
  title.append('tspan').text('Special case: ')
  title.append('tspan').text('ζ').attr('font-style', 'italic').attr('font-size', 88).attr('x', 1330)
  title.append('tspan').text('Λ').attr('font-size', 60).attr('x', 1371).attr('dy', 19)
  title.append('tspan').text('=').attr('x', 1450).attr('dy', -19)

  // cropped boxes on the right
  const boxTop = [390, 580, 770]
  plot.selectAll('rect.box').data(boxTop).join('rect')
    .attr('class', 'box')
    .attr('x', 1335).attr('y', d => d)
    .attr('width', 300).attr('height', 141)
    .attr('rx', 26).attr('fill', 'none')
    .attr('stroke', '#6c88a0').attr('stroke-width', 5)

  const boxGlyphs = [470, 662]
  plot.selectAll('text.glyph').data(boxGlyphs).join('text')
    .attr('class', 'glyph')
    .attr('x', 1466).attr('y', d => d)
    .attr('font-family', '"Liberation Serif"').attr('font-style', 'italic')
    .attr('font-size', 48).attr('fill', '#000')
    .text('ϕ')
}

document.addEventListener('DOMContentLoaded', drawCorner, false)
</script>
</body>
</html>
